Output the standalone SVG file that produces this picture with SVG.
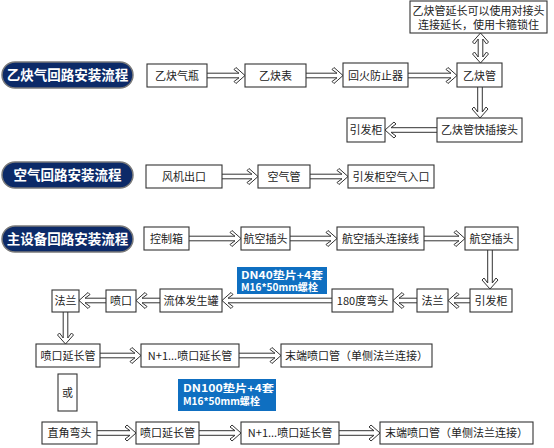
<svg xmlns="http://www.w3.org/2000/svg" width="554" height="448" viewBox="0 0 554 448">
<defs>
<style>
.bg{fill:#ffffff}
.box{fill:#ffffff;stroke:#333333;stroke-width:1.1}
.t{font-family:"Noto Sans CJK SC","Liberation Sans",sans-serif;font-size:11px;fill:#222222;text-anchor:middle}
.pill{fill:#0c2a68;stroke:#7a7a7a;stroke-width:1.5}
.pt{font-family:"Noto Sans CJK SC","Liberation Sans",sans-serif;font-size:13.5px;font-weight:bold;fill:#ffffff;text-anchor:middle}
.lab{fill:#0f6fc1}
.lt{font-family:"Noto Sans CJK SC","Liberation Sans",sans-serif;font-size:10.5px;font-weight:bold;fill:#ffffff}
.ar{fill:#ffffff;stroke:#333333;stroke-width:1}
</style>
</defs>
<rect class="bg" x="0" y="0" width="554" height="448"/>

<g id="titles">
<g id="title-acetylene"><rect class="pill" x="2" y="62" width="131" height="26" rx="13"/><text class="pt" x="67.5" y="80">乙炔气回路安装流程</text></g>
<g id="title-air"><rect class="pill" x="2" y="162" width="131" height="26" rx="13"/><text class="pt" x="67.5" y="180">空气回路安装流程</text></g>
<g id="title-main"><rect class="pill" x="2" y="226" width="131" height="26" rx="13"/><text class="pt" x="67.5" y="244">主设备回路安装流程</text></g>
</g>

<g id="connectors">
<!-- row 1 -->
<path class="ar" transform="translate(207,75.5)" d="M0,-2.3H32L27,-6L29,-8L38,0L29,8L27,6L32,2.3H0"/>
<path class="ar" transform="translate(306,75.5)" d="M0,-2.3H31L26,-6L28,-8L37,0L28,8L26,6L31,2.3H0"/>
<path class="ar" transform="translate(408,75.5)" d="M0,-2.3H43L38,-6L40,-8L49,0L40,8L38,6L43,2.3H0"/>
<path class="ar" transform="translate(480.5,33) rotate(90)" d="M0,0L9,-8L11,-6L6,-2.3H24L19,-6L21,-8L30,0L21,8L19,6L24,2.3H6L11,6L9,8Z"/>
<path class="ar" transform="translate(480,87) rotate(90)" d="M0,-2.3H25L20,-6L22,-8L31,0L22,8L20,6L25,2.3H0"/>
<path class="ar" transform="translate(437,130) scale(-1,1)" d="M0,-2.3H46L41,-6L43,-8L52,0L43,8L41,6L46,2.3H0"/>
<!-- row 2 -->
<path class="ar" transform="translate(222,176.5)" d="M0,-2.3H30L25,-6L27,-8L36,0L27,8L25,6L30,2.3H0"/>
<path class="ar" transform="translate(310,176.5)" d="M0,-2.3H32L27,-6L29,-8L38,0L29,8L27,6L32,2.3H0"/>
<!-- row 3 -->
<path class="ar" transform="translate(189,238.5)" d="M0,-2.3H46L41,-6L43,-8L52,0L43,8L41,6L46,2.3H0"/>
<path class="ar" transform="translate(290,238.5)" d="M0,-2.3H41L36,-6L38,-8L47,0L38,8L36,6L41,2.3H0"/>
<path class="ar" transform="translate(424,238.5)" d="M0,-2.3H35L30,-6L32,-8L41,0L32,8L30,6L35,2.3H0"/>
<path class="ar" transform="translate(490,250) rotate(90)" d="M0,-2.3H33L28,-6L30,-8L39,0L30,8L28,6L33,2.3H0"/>
<!-- row 4 -->
<path class="ar" transform="translate(470,300.5) scale(-1,1)" d="M0,-2.3H16L11,-6L13,-8L22,0L13,8L11,6L16,2.3H0"/>
<path class="ar" transform="translate(417,300.5) scale(-1,1)" d="M0,-2.3H18L13,-6L15,-8L24,0L15,8L13,6L18,2.3H0"/>
<path class="ar" transform="translate(332,300.5) scale(-1,1)" d="M0,-2.3H104L99,-6L101,-8L110,0L101,8L99,6L104,2.3H0"/>
<path class="ar" transform="translate(160,300.5) scale(-1,1)" d="M0,-2.3H18L13,-6L15,-8L24,0L15,8L13,6L18,2.3H0"/>
<path class="ar" transform="translate(106,300.5) scale(-1,1)" d="M0,-2.3H21L16,-6L18,-8L27,0L18,8L16,6L21,2.3H0"/>
<path class="ar" transform="translate(65.5,312) rotate(90)" d="M0,-2.3H26L21,-6L23,-8L32,0L23,8L21,6L26,2.3H0"/>
<!-- row 5 -->
<path class="ar" transform="translate(100,355.5)" d="M0,-2.3H35L30,-6L32,-8L41,0L32,8L30,6L35,2.3H0"/>
<path class="ar" transform="translate(239,355.5)" d="M0,-2.3H36L31,-6L33,-8L42,0L33,8L31,6L36,2.3H0"/>
<!-- row 6 -->
<path class="ar" transform="translate(97,433)" d="M0,-2.3H33L28,-6L30,-8L39,0L30,8L28,6L33,2.3H0"/>
<path class="ar" transform="translate(199,433)" d="M0,-2.3H36L31,-6L33,-8L42,0L33,8L31,6L36,2.3H0"/>
<path class="ar" transform="translate(339,433)" d="M0,-2.3H35L30,-6L32,-8L41,0L32,8L30,6L35,2.3H0"/>
</g>

<g id="n-bottle"><rect class="box" x="147" y="64" width="60" height="23"/><text class="t" x="177" y="79.5">乙炔气瓶</text></g>
<g id="n-gauge"><rect class="box" x="245" y="64" width="61" height="23"/><text class="t" x="275.5" y="79.5">乙炔表</text></g>
<g id="n-arrestor"><rect class="box" x="343" y="63" width="65" height="24"/><text class="t" x="375.5" y="79.5">回火防止器</text></g>
<g id="n-pipe"><rect class="box" x="457" y="63" width="45" height="24"/><text class="t" x="479.5" y="79.5">乙炔管</text></g>
<g id="n-note"><rect class="box" x="410" y="1" width="137" height="32"/><text class="t" x="478.5" y="15"><tspan x="478.5" y="15">乙炔管延长可以使用对接头</tspan><tspan x="478.5" y="29">连接延长，使用卡箍锁住</tspan></text></g>
<g id="n-quick"><rect class="box" x="437" y="118" width="85" height="24"/><text class="t" x="479.5" y="134">乙炔管快插接头</text></g>
<g id="n-igniter1"><rect class="box" x="347" y="118" width="38" height="24"/><text class="t" x="366" y="134">引发柜</text></g>

<g id="n-fan"><rect class="box" x="146" y="165" width="76" height="23"/><text class="t" x="184" y="180.5">风机出口</text></g>
<g id="n-airpipe"><rect class="box" x="258" y="165" width="52" height="23"/><text class="t" x="284" y="180.5">空气管</text></g>
<g id="n-airin"><rect class="box" x="348" y="165" width="86" height="23"/><text class="t" x="391" y="180.5">引发柜空气入口</text></g>

<g id="n-ctrl"><rect class="box" x="144" y="227" width="45" height="23"/><text class="t" x="166.5" y="242.5">控制箱</text></g>
<g id="n-plug1"><rect class="box" x="241" y="227" width="49" height="23"/><text class="t" x="265.5" y="242.5">航空插头</text></g>
<g id="n-cable"><rect class="box" x="337" y="227" width="87" height="23"/><text class="t" x="380.5" y="242.5">航空插头连接线</text></g>
<g id="n-plug2"><rect class="box" x="465" y="227" width="53" height="23"/><text class="t" x="491.5" y="242.5">航空插头</text></g>

<g id="n-igniter2"><rect class="box" x="470" y="289" width="42" height="23"/><text class="t" x="491" y="304.5">引发柜</text></g>
<g id="n-flange1"><rect class="box" x="417" y="289" width="31" height="23"/><text class="t" x="432.5" y="304.5">法兰</text></g>
<g id="n-elbow180"><rect class="box" x="332" y="289" width="61" height="23"/><text class="t" x="362.5" y="304.5">180度弯头</text></g>
<g id="n-tank"><rect class="box" x="160" y="289" width="62" height="23"/><text class="t" x="191" y="304.5">流体发生罐</text></g>
<g id="n-nozzle"><rect class="box" x="106" y="290" width="30" height="22"/><text class="t" x="121" y="304.5">喷口</text></g>
<g id="n-flange2"><rect class="box" x="52" y="290" width="27" height="22"/><text class="t" x="65.5" y="304.5">法兰</text></g>

<g id="label-dn40"><rect class="lab" x="237" y="267" width="90" height="27"/><text class="lt" x="241" y="279"><tspan x="241" y="279" textLength="82" lengthAdjust="spacingAndGlyphs">DN40垫片+4套</tspan><tspan x="241" y="291" textLength="77" lengthAdjust="spacingAndGlyphs">M16*50mm螺栓</tspan></text></g>

<g id="n-ext1"><rect class="box" x="36" y="344" width="64" height="23"/><text class="t" x="68" y="359.5">喷口延长管</text></g>
<g id="n-extn1"><rect class="box" x="141" y="344" width="98" height="23"/><text class="t" x="190" y="359.5">N+1...喷口延长管</text></g>
<g id="n-end1"><rect class="box" x="281" y="344" width="151" height="23"/><text class="t" x="356.5" y="359.5">末端喷口管（单侧法兰连接）</text></g>

<g id="n-or"><rect class="box" x="58" y="374" width="19" height="37"/><text class="t" x="67.5" y="396.5">或</text></g>

<g id="label-dn100"><rect class="lab" x="178" y="379" width="98" height="32"/><text class="lt" x="183" y="392"><tspan x="183" y="392" textLength="91" lengthAdjust="spacingAndGlyphs">DN100垫片+4套</tspan><tspan x="183" y="405" textLength="77" lengthAdjust="spacingAndGlyphs">M16*50mm螺栓</tspan></text></g>

<g id="n-elbow90"><rect class="box" x="42" y="422" width="55" height="22"/><text class="t" x="69.5" y="437">直角弯头</text></g>
<g id="n-ext2"><rect class="box" x="136" y="422" width="63" height="22"/><text class="t" x="167.5" y="437">喷口延长管</text></g>
<g id="n-extn2"><rect class="box" x="241" y="422" width="98" height="22"/><text class="t" x="290" y="437">N+1...喷口延长管</text></g>
<g id="n-end2"><rect class="box" x="380" y="422" width="153" height="22"/><text class="t" x="456.5" y="437">末端喷口管（单侧法兰连接）</text></g>
</svg>
